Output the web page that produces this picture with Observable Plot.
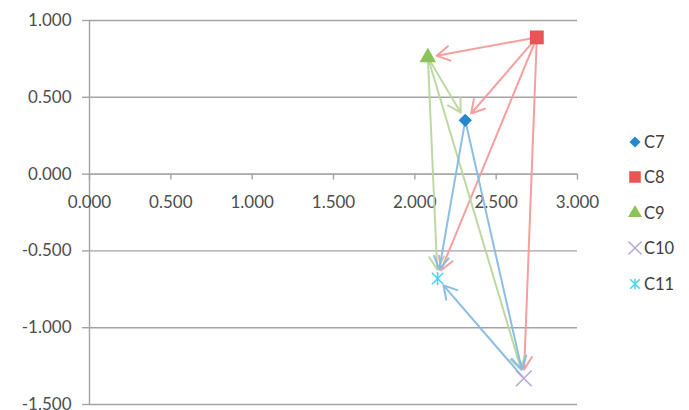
<!DOCTYPE html>
<html><head><meta charset="utf-8">
<script src="https://cdn.jsdelivr.net/npm/d3@7"></script>
<script src="https://cdn.jsdelivr.net/npm/@observablehq/plot@0.6"></script>
<style>
body{margin:0;background:#fff;}
#wrap{position:relative;width:689px;height:410px;overflow:hidden;font-family:Lato, "Open Sans", sans-serif;}
#legend{position:absolute;left:626px;top:124px;}
.item{display:flex;align-items:center;height:35.5px;font-size:16.5px;color:#404040;}
.item svg{margin-right:0px;}
</style></head><body><div id="wrap"><div id="legend"></div></div>
<script>
// Series (points)
const series = ["C7", "C8", "C9", "C10", "C11"];
const xs = [2.31, 2.75, 2.08, 2.67, 2.14];
const ys = [0.35, 0.89, 0.76, -1.33, -0.68];
const markerColors = ["#2388cc", "#e95454", "#8dc15a", "#b9a7d5", "#4ed4e6"];
// Arrows
const arrowFrom = ["C8", "C8", "C8", "C8", "C9", "C9", "C9", "C7", "C7", "C10"];
const arrowTo   = ["C9", "C7", "C11", "C10", "C7", "C11", "C10", "C11", "C10", "C11"];
const arrowColors = ["#f59a9a", "#f59a9a", "#f59a9a", "#f59a9a", "#b9d69b", "#b9d69b", "#b9d69b", "#86bbe3", "#86bbe3", "#86bbe3"];
// Ticks
const xTicks = [0, 0.5, 1, 1.5, 2, 2.5, 3];
const yTicks = [-1.5, -1, -0.5, 0, 0.5, 1];

const star = {
  draw(ctx, size) {
    const r = Math.sqrt(size) * 0.5;
    ctx.moveTo(-r, -r); ctx.lineTo(r, r);
    ctx.moveTo(r, -r); ctx.lineTo(-r, r);
    ctx.moveTo(0, -r * 1.15); ctx.lineTo(0, r * 1.15);
  }
};
const symbolDefs = [
  {symbol: "diamond2", r: 6, filled: true},
  {symbol: "square", r: 7.8, filled: true},
  {symbol: "triangle", r: 6.2, filled: true},
  {symbol: "times", r: 7.2, filled: false},
  {symbol: star, r: 6.5, filled: false}
];

const points = series.map((s, i) => ({name: s, x: xs[i], y: ys[i]}));
const byName = Object.fromEntries(points.map(p => [p.name, p]));
const arrows = arrowFrom.map((f, i) => ({
  x1: byName[f].x, y1: byName[f].y, x2: byName[arrowTo[i]].x, y2: byName[arrowTo[i]].y, c: arrowColors[i]
}));

const fmt = d => d.toFixed(3);
const gridColor = "#a3a3a3";
const H = 410, MB = 6;

const plot = Plot.plot({
  width: 689, height: H,
  marginLeft: 89, marginRight: 112, marginTop: 20, marginBottom: MB,
  style: {fontFamily: "Lato, 'Open Sans', sans-serif", fontSize: "17px", color: "#4d4d4d", overflow: "visible"},
  x: {domain: [0, 3]},
  y: {domain: [-1.5, 1]},
  marks: [
    Plot.gridY(yTicks, {stroke: gridColor, strokeOpacity: 1, strokeWidth: 1.4}),
    Plot.ruleX([0], {stroke: gridColor, strokeWidth: 1.4}),
    Plot.axisY(yTicks, {tickFormat: fmt, tickSize: 7, tickPadding: 11, stroke: gridColor, strokeWidth: 1.4, fill: "#4d4d4d"}),
    Plot.ruleY([0], {stroke: gridColor, strokeWidth: 1.4}),
    Plot.axisX(xTicks, {anchor: "bottom", tickFormat: fmt, tickSize: 6, tickPadding: 16, stroke: gridColor, strokeWidth: 1.4, fill: "#4d4d4d"}),
    Plot.arrow(arrows, {x1: "x1", y1: "y1", x2: "x2", y2: "y2", stroke: "c", strokeWidth: 2, strokeOpacity: 0.95, headLength: 11, insetEnd: 9, insetStart: 2}),
    ...points.map((p, i) => Plot.dot([p], {
      x: "x", y: "y", symbol: symbolDefs[i].symbol, r: symbolDefs[i].r,
      ...(symbolDefs[i].filled ? {fill: markerColors[i], stroke: "none"} : {stroke: markerColors[i], strokeWidth: 1.6, fill: "none"})
    }))
  ]
});

// move the x axis so it sits on y = 0
const off = plot.scale("y").apply(0) - (H - MB);
plot.querySelectorAll('g[aria-label="x-axis tick"], g[aria-label="x-axis tick label"]').forEach(g => {
  g.setAttribute("transform", `translate(0,${off}) ` + (g.getAttribute("transform") || ""));
});
document.getElementById("wrap").prepend(plot);

// legend
const legend = d3.select("#legend");
series.forEach((s, i) => {
  const it = legend.append("div").attr("class", "item");
  const svg = it.append("svg").attr("width", 18).attr("height", 18);
  const def = symbolDefs[i];
  const type = {diamond2: d3.symbolDiamond2, square: d3.symbolSquare, triangle: d3.symbolTriangle, times: d3.symbolTimes}[def.symbol] || def.symbol;
  const size = Math.PI * def.r * def.r * 0.7;
  svg.append("path").attr("transform", "translate(9,9)")
    .attr("d", d3.symbol(type, size)())
    .attr("fill", def.filled ? markerColors[i] : "none")
    .attr("stroke", def.filled ? "none" : markerColors[i])
    .attr("stroke-width", 1.5);
  it.append("span").text(s);
});
</script></body></html>
